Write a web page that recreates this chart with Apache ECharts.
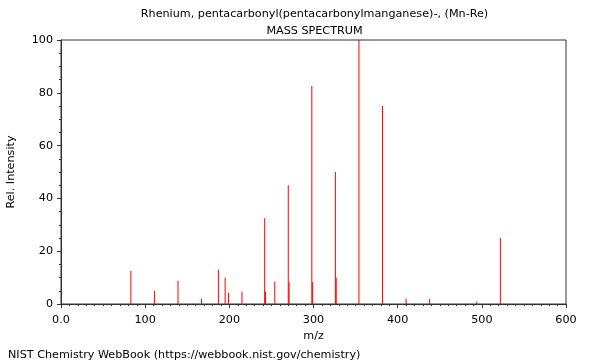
<!DOCTYPE html>
<html>
<head>
<meta charset="utf-8">
<script src="https://cdn.jsdelivr.net/npm/echarts@6/dist/echarts.min.js"></script>
<style>html,body{margin:0;padding:0;background:#fff}#c{width:600px;height:360px}</style>
</head>
<body>
<div id="c"></div>
<script>
var titleText = "Rhenium, pentacarbonyl(pentacarbonylmanganese)-, (Mn-Re)";
var subTitle = "MASS SPECTRUM";
var footer = "NIST Chemistry WebBook (https://webbook.nist.gov/chemistry)";
var mz =        [83,   111, 139, 167, 187, 195, 199, 215, 242,  243, 254, 270, 271, 298,  299, 326, 327, 354, 382, 410, 438, 494, 522];
var intensity = [12.5, 5,   8.8, 2,   13,  10,  4.3, 4.7, 32.5, 4.7, 8.5, 45,  8.3, 82.6, 8.3, 50,  10,  100, 75,  2,   2,   0.9, 25];

var font = "DejaVu Sans";
var fs = 11.2;
var chart = echarts.init(document.getElementById('c'), null, {renderer: 'canvas'});
var data = mz.map(function (m, i) { return [m, intensity[i]]; });

chart.setOption({
  animation: false,
  backgroundColor: '#fff',
  textStyle: {fontFamily: font},
  title: [
    {text: titleText, left: 309.5, top: 4, textAlign: 'center',
     textStyle: {fontFamily: font, fontSize: fs, fontWeight: 'normal', color: '#000'}},
    {text: subTitle, left: 309.5, top: 21, textAlign: 'center',
     textStyle: {fontFamily: font, fontSize: fs, fontWeight: 'normal', color: '#000'}},
    {text: footer, left: 3, top: 345,
     textStyle: {fontFamily: font, fontSize: fs, fontWeight: 'normal', color: '#000'}}
  ],
  grid: {left: 61, right: 34, top: 40, bottom: 56, show: true, borderColor: '#333', borderWidth: 1,
         backgroundColor: 'transparent', containLabel: false, outerBoundsMode: 'none'},
  xAxis: {
    type: 'value', min: 0, max: 600, interval: 100,
    name: 'm/z', nameLocation: 'middle', nameGap: 25,
    nameTextStyle: {fontFamily: font, fontSize: fs, color: '#000'},
    axisLine: {show: true, lineStyle: {color: '#333', width: 1}},
    axisTick: {show: true, inside: false, length: 4, lineStyle: {color: '#333'}},
    minorTick: {show: true, splitNumber: 10, length: 2, lineStyle: {color: '#333'}},
    splitLine: {show: false},
    axisLabel: {fontFamily: font, fontSize: fs, color: '#000', margin: 11,
      formatter: function (v) { return v === 0 ? '0.0' : String(v); }}
  },
  yAxis: {
    type: 'value', min: 0, max: 100, interval: 20,
    name: 'Rel. Intensity', nameLocation: 'middle', nameGap: 44, nameRotate: 90,
    nameTextStyle: {fontFamily: font, fontSize: fs, color: '#000'},
    axisLine: {show: true, lineStyle: {color: '#333', width: 1}},
    axisTick: {show: true, inside: false, length: 4, lineStyle: {color: '#333'}},
    minorTick: {show: true, splitNumber: 4, length: 2, lineStyle: {color: '#333'}},
    splitLine: {show: false},
    axisLabel: {fontFamily: font, fontSize: fs, color: '#000', margin: 8}
  },
  series: [{
    type: 'custom',
    data: data,
    clip: false,
    renderItem: function (params, api) {
      var p0 = api.coord([api.value(0), 0]);
      var p1 = api.coord([api.value(0), api.value(1)]);
      return {
        type: 'line',
        shape: {x1: p0[0], y1: p0[1], x2: p1[0], y2: p1[1]},
        style: {stroke: '#ff0000', lineWidth: 1}
      };
    }
  }]
});
</script>
</body>
</html>
